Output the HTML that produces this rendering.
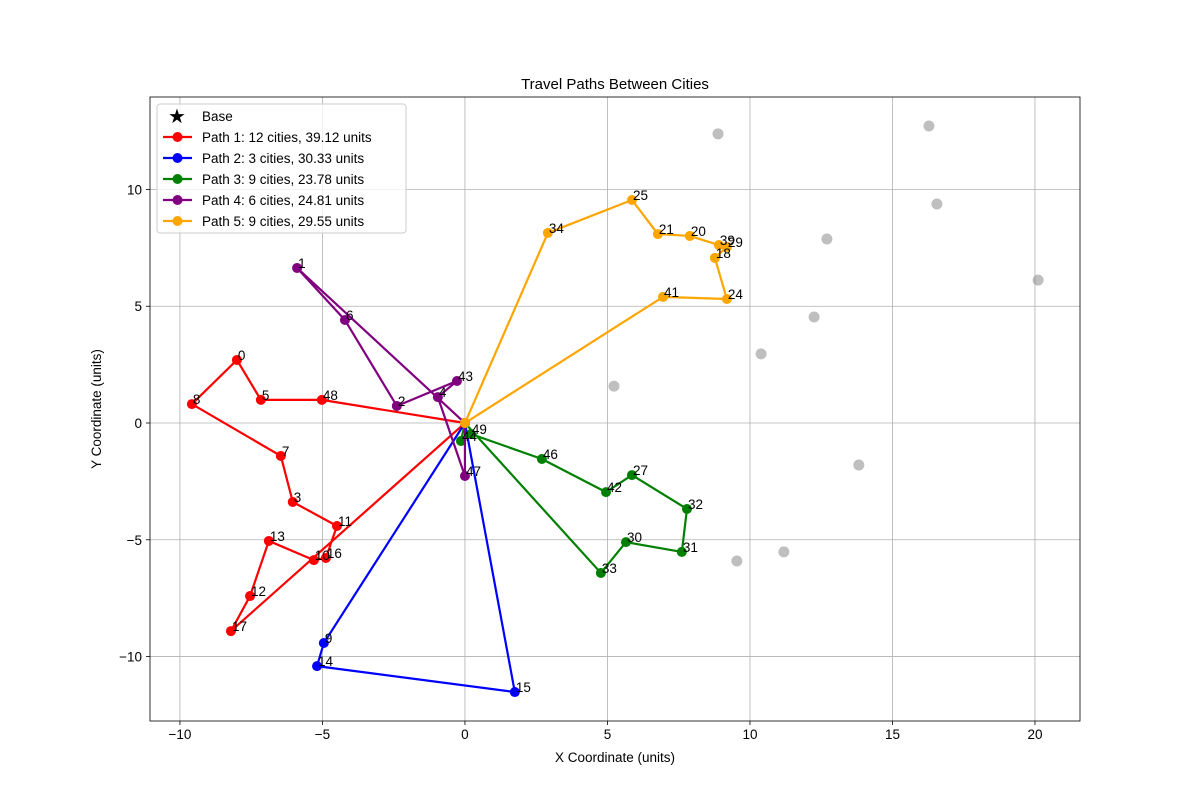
<!DOCTYPE html>
<html><head><meta charset="utf-8"><style>
body{margin:0;background:#fff;}
svg{display:block;font-family:"Liberation Sans","DejaVu Sans",sans-serif;}
</style></head><body>
<svg id="chart" width="1200" height="810" xmlns="http://www.w3.org/2000/svg">
<rect width="1200" height="810" fill="#fff"/>
<text x="615" y="89" text-anchor="middle" font-size="15">Travel Paths Between Cities</text>
<g id="grid"></g>
<g id="axes"></g>
<g id="series"></g>
<g id="labels"></g>
<g id="legend"></g>
</svg>
<script>
const xTicks=[-10,-5,0,5,10,15,20];
const yTicks=[-10,-5,0,5,10];
const base=[0,0];
const pathNames=["Path 1: 12 cities, 39.12 units","Path 2: 3 cities, 30.33 units","Path 3: 9 cities, 23.78 units","Path 4: 6 cities, 24.81 units","Path 5: 9 cities, 29.55 units"];
const pathColors=["#ff0000","#0000ff","#008000","#800080","#ffa500"];
const path1Ids=[48,5,0,8,7,3,11,16,10,13,12,17];
const path1X=[-5.02,-7.16,-8.0,-9.58,-6.46,-6.04,-4.49,-4.88,-5.30,-6.88,-7.54,-8.21];
const path1Y=[0.99,0.99,2.7,0.81,-1.41,-3.38,-4.41,-5.78,-5.87,-5.05,-7.41,-8.91];
const path2Ids=[9,14,15];
const path2X=[-4.95,-5.19,1.75];
const path2Y=[-9.42,-10.41,-11.52];
const path3Ids=[44,49,46,42,27,32,31,30,33];
const path3X=[-0.14,0.21,2.70,4.95,5.86,7.79,7.61,5.65,4.77];
const path3Y=[-0.77,-0.47,-1.54,-2.96,-2.23,-3.68,-5.52,-5.10,-6.42];
const path4Ids=[47,4,43,2,6,1];
const path4X=[0.0,-0.95,-0.28,-2.39,-4.21,-5.89];
const path4Y=[-2.27,1.11,1.8,0.73,4.41,6.64];
const path5Ids=[34,25,21,20,39,29,18,24,41];
const path5X=[2.91,5.86,6.77,7.89,8.91,9.19,8.77,9.19,6.95];
const path5Y=[8.14,9.55,8.09,8.01,7.62,7.54,7.07,5.31,5.40];
const unvisitedX=[8.88,16.28,16.56,12.70,20.11,12.25,10.39,5.23,13.82,11.19,9.54];
const unvisitedY=[12.38,12.72,9.38,7.88,6.12,4.54,2.96,1.58,-1.80,-5.52,-5.91];

const L=150,R=1080,T=97,B=721;
const xMin=-11.05,xMax=21.58,yMin=-12.76,yMax=13.96;
const sx=v=>L+(v-xMin)/(xMax-xMin)*(R-L);
const sy=v=>B-(v-yMin)/(yMax-yMin)*(B-T);
const NS="http://www.w3.org/2000/svg";
function mk(tag,attrs,parent,txt){const e=document.createElementNS(NS,tag);for(const k in attrs)e.setAttribute(k,attrs[k]);if(txt!==undefined)e.textContent=txt;parent.appendChild(e);return e;}
const g=document.getElementById('grid'),ax=document.getElementById('axes'),se=document.getElementById('series'),lb=document.getElementById('labels'),lg=document.getElementById('legend');

xTicks.forEach(t=>{const x=sx(t);
 let l=mk('line',{x1:x,x2:x,y1:T,y2:B,stroke:'#b0b0b0','stroke-width':0.8},g);
 
 mk('line',{x1:x,x2:x,y1:B,y2:B+4,stroke:'#000','stroke-width':0.8},ax);
 let tx=mk('text',{x:x,y:B+18,'text-anchor':'middle','font-size':13.5},ax,String(t).replace('-','−'));
 });
yTicks.forEach(t=>{const y=sy(t);
 let l=mk('line',{x1:L,x2:R,y1:y,y2:y,stroke:'#b0b0b0','stroke-width':0.8},g);
 
 mk('line',{x1:L-4,x2:L,y1:y,y2:y,stroke:'#000','stroke-width':0.8},ax);
 let tx=mk('text',{x:L-8,y:y+5,'text-anchor':'end','font-size':13.5},ax,String(t).replace('-','−'));
 });
let fr=mk('rect',{x:L,y:T,width:R-L,height:B-T,fill:'none',stroke:'#000','stroke-width':0.8},ax);

let xt=mk('text',{x:(L+R)/2,y:B+41,'text-anchor':'middle','font-size':13.5},ax,'X Coordinate (units)');

let yt=mk('text',{x:0,y:0,'text-anchor':'middle','font-size':13.5,transform:`translate(101,${(T+B)/2}) rotate(-90)`},ax,'Y Coordinate (units)');


unvisitedX.forEach((v,i)=>{let c=mk('circle',{cx:sx(v),cy:sy(unvisitedY[i]),r:5.5,fill:'#808080','fill-opacity':0.5},se);
 });

const paths=[[path1Ids,path1X,path1Y],[path2Ids,path2X,path2Y],[path3Ids,path3X,path3Y],[path4Ids,path4X,path4Y],[path5Ids,path5X,path5Y]];
paths.forEach((p,k)=>{const [ids,xs,ys]=p;const col=pathColors[k];
 let pts=[[base[0],base[1]]];xs.forEach((v,i)=>pts.push([v,ys[i]]));pts.push([base[0],base[1]]);
 let pl=mk('polyline',{points:pts.map(q=>sx(q[0])+','+sy(q[1])).join(' '),fill:'none',stroke:col,'stroke-width':2.2,'stroke-linejoin':'round'},se);
 
 pts.forEach(q=>{let c=mk('circle',{cx:sx(q[0]),cy:sy(q[1]),r:5,fill:col},se);
  });
 ids.forEach((id,i)=>{let t=mk('text',{x:sx(xs[i])+1,y:sy(ys[i]),'font-size':13.5},lb,String(id));
  });
});

let lr=mk('rect',{x:157,y:104,width:249,height:129,rx:3,fill:'#fff','fill-opacity':0.8,stroke:'#ccc'},lg);

let st=mk('text',{x:177,y:123,'text-anchor':'middle','font-size':20},lg,'★');

let bt=mk('text',{x:202,y:121,'font-size':13.5},lg,'Base');

pathNames.forEach((n,i)=>{const y=137+i*21;
 mk('line',{x1:163,x2:192,y1:y,y2:y,stroke:pathColors[i],'stroke-width':2.2},lg);
 mk('circle',{cx:177.5,cy:y,r:5,fill:pathColors[i]},lg);
 let t=mk('text',{x:202,y:y+5,'font-size':13.5},lg,n);
 });
</script>
</body></html>
